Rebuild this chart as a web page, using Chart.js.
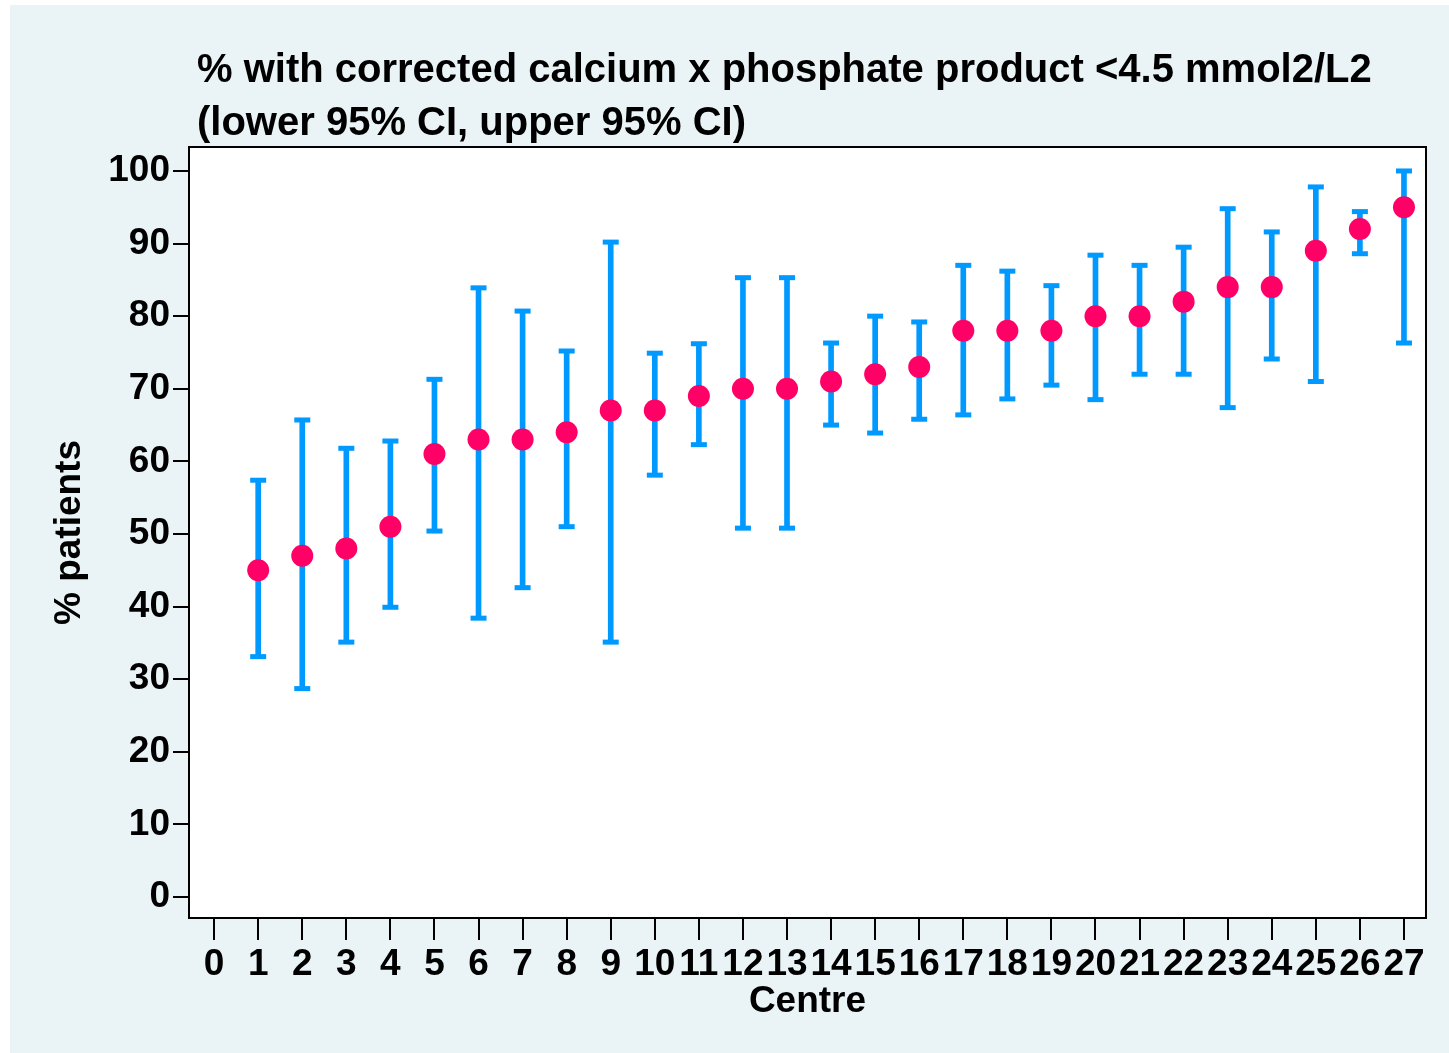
<!DOCTYPE html>
<html>
<head>
<meta charset="utf-8">
<script src="https://cdn.jsdelivr.net/npm/chart.js@4"></script>
<style>
  html, body { margin: 0; padding: 0; background: #ffffff; }
  #wrap { width: 1449px; height: 1053px; }
</style>
</head>
<body>
<div id="wrap"><canvas id="myChart" width="1449" height="1053"></canvas></div>
<script>
// Centre numbers along the x-axis
var centres = [1, 2, 3, 4, 5, 6, 7, 8, 9, 10, 11, 12, 13, 14, 15, 16, 17, 18, 19, 20, 21, 22, 23, 24, 25, 26, 27];
// % of patients in range, and the 95% CI either side
var percent = [45, 47, 48, 51, 61, 63, 63, 64, 67, 67, 69, 70, 70, 71, 72, 73, 78, 78, 78, 80, 80, 82, 84, 84, 89, 92, 95];
var lowerCI = [33.1, 28.7, 35.1, 39.9, 50.4, 38.4, 42.6, 51, 35.1, 58.1, 62.3, 50.8, 50.8, 65, 63.9, 65.8, 66.4, 68.6, 70.5, 68.5, 72, 72, 67.4, 74.1, 71, 88.6, 76.3];
var upperCI = [57.4, 65.7, 61.8, 62.8, 71.3, 83.9, 80.7, 75.2, 90.2, 74.9, 76.2, 85.3, 85.3, 76.3, 80, 79.2, 87, 86.2, 84.2, 88.4, 87, 89.5, 94.8, 91.6, 97.8, 94.4, 100];
// tick labels
var xTicks = [0, 1, 2, 3, 4, 5, 6, 7, 8, 9, 10, 11, 12, 13, 14, 15, 16, 17, 18, 19, 20, 21, 22, 23, 24, 25, 26, 27];
var yTicks = [0, 10, 20, 30, 40, 50, 60, 70, 80, 90, 100];
var titleLines = ["% with corrected calcium x phosphate product <4.5 mmol2/L2", "(lower 95% CI, upper 95% CI)"];

var FONT = "'Liberation Sans', Arial, sans-serif";
var BLUE = "#0099FF";
var PINK = "#FF0066";

// background panel, white plot box, frame and the left aligned title
var framePlugin = {
  id: "frame",
  beforeDraw: function (chart) {
    var c = chart.ctx, a = chart.chartArea;
    c.save();
    c.fillStyle = "#ffffff";
    c.fillRect(0, 0, chart.width, chart.height);
    c.fillStyle = "#EAF4F6";
    c.fillRect(10, 5, chart.width - 10, chart.height - 5);
    c.fillStyle = "#ffffff";
    c.fillRect(a.left, a.top, a.right - a.left, a.bottom - a.top);
    c.restore();
  },
  afterDraw: function (chart) {
    var c = chart.ctx, a = chart.chartArea;
    c.save();
    c.strokeStyle = "#000000";
    c.lineWidth = 2;
    c.strokeRect(a.left, a.top, a.right - a.left, a.bottom - a.top);
    c.fillStyle = "#000000";
    c.font = "bold 40px " + FONT;
    c.textAlign = "left";
    c.textBaseline = "alphabetic";
    c.fillText(titleLines[0], a.left + 8, 82);
    c.fillText(titleLines[1], a.left + 8, 135);
    c.restore();
  }
};

var ctx = document.getElementById("myChart");
var myChart = new Chart(ctx, {
  type: "scatter",
  data: {
    datasets: [
      {
        data: centres.map(function (c, i) { return { x: c, y: percent[i] }; }),
        pointRadius: 11,
        pointBackgroundColor: PINK,
        pointBorderWidth: 0,
        order: 0
      },
      {
        data: centres.map(function (c, i) { return { x: c, y: upperCI[i] }; }),
        pointStyle: "line",
        pointRadius: 8,
        pointBorderWidth: 5,
        pointBorderColor: BLUE,
        order: 1
      },
      {
        data: centres.map(function (c, i) { return { x: c, y: lowerCI[i] }; }),
        pointStyle: "line",
        pointRadius: 8,
        pointBorderWidth: 5,
        pointBorderColor: BLUE,
        order: 1
      },
      {
        type: "bar",
        data: centres.map(function (c, i) { return { x: c, y: [lowerCI[i], upperCI[i]] }; }),
        backgroundColor: BLUE,
        borderWidth: 0,
        barThickness: 5,
        grouped: false,
        order: 2
      }
    ]
  },
  options: {
    responsive: false,
    animation: false,
    layout: { padding: { left: 10, top: 147, right: 23, bottom: 29 } },
    plugins: {
      legend: { display: false },
      tooltip: { enabled: false }
    },
    scales: {
      x: {
        type: "linear",
        min: -0.57,
        max: 27.5,
        offset: false,
        afterBuildTicks: function (s) { s.ticks = xTicks.map(function (v) { return { value: v }; }); },
        afterFit: function (s) { s.height = 106; },
        grid: { offset: false, drawOnChartArea: false, color: "#000000", lineWidth: 2, tickLength: 22 },
        border: { display: true, color: "#000000", width: 2 },
        ticks: { autoSkip: false, maxRotation: 0, padding: 3, color: "#000000", font: { family: FONT, size: 37, weight: "bold" } },
        title: { display: true, text: "Centre", color: "#000000", padding: { top: 0, bottom: 0 }, font: { family: FONT, size: 37, weight: "bold" } }
      },
      y: {
        min: -2.9,
        max: 103.3,
        afterBuildTicks: function (s) { s.ticks = yTicks.map(function (v) { return { value: v }; }); },
        afterFit: function (s) { s.width = 179; },
        grid: { drawOnChartArea: false, color: "#000000", lineWidth: 2, tickLength: 16 },
        border: { display: true, color: "#000000", width: 2 },
        ticks: { padding: 3, color: "#000000", font: { family: FONT, size: 37, weight: "bold" } },
        title: { display: true, text: "% patients", color: "#000000", padding: { top: 38, bottom: 0 }, font: { family: FONT, size: 37, weight: "bold" } }
      }
    }
  },
  plugins: [framePlugin]
});
</script>
</body>
</html>
